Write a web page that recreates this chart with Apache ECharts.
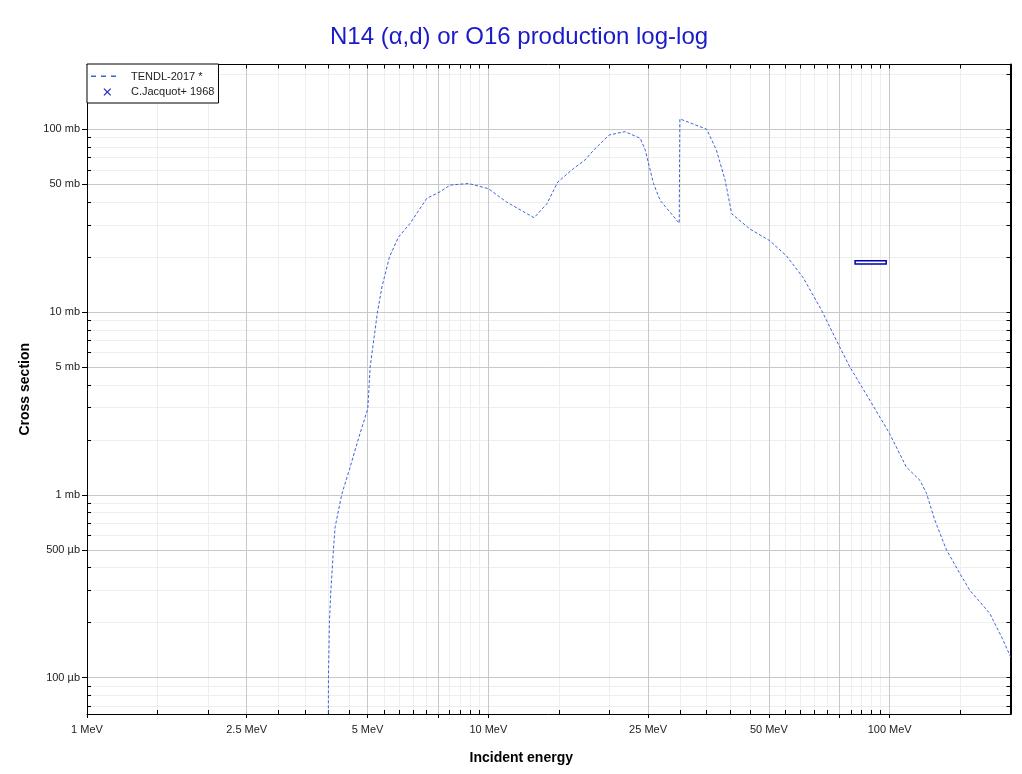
<!DOCTYPE html>
<html><head><meta charset="utf-8">
<script src="https://cdn.jsdelivr.net/npm/echarts@6/dist/echarts.min.js"></script>
<style>html,body{margin:0;padding:0;background:#fff}#chart{width:1022px;height:774px}</style>
</head><body><div id="chart"></div>
<script>
// ---- data ----
const tendlEnergy = [3.97, 3.996, 4.019, 4.052, 4.112, 4.153, 4.315, 4.525, 4.79, 5.008, 5.075, 5.29, 5.43, 5.67, 5.97, 6.38, 6.63, 7.02, 7.58, 8.03, 8.92, 10, 11.1, 13.0, 14.0, 14.9, 16.3, 17.4, 18.3, 20.0, 21.9, 23.9, 24.6, 25.8, 26.8, 29.9, 30.0, 35.0, 37.0, 38.9, 40.4, 44.8, 50.2, 55.3, 60.9, 67.7, 74.4, 79.6, 89.2, 100, 110, 119, 123.5, 129.5, 138.5, 149.5, 158.3, 177.5, 191.6, 200];
const tendlSigma = [0.001, 0.1, 0.205, 0.3, 0.505, 0.67, 1.01, 1.42, 2.17, 2.96, 5.0, 9.9, 13.7, 20.0, 25.7, 30.5, 34.6, 41.8, 45.5, 49.5, 50.5, 47.3, 40.0, 32.8, 39.2, 51.5, 61, 67.8, 76.9, 93, 97, 89.2, 76.9, 50.4, 40.8, 30.6, 113.9, 100, 76.9, 52.6, 34.5, 28.5, 24.6, 20.3, 15.4, 10.2, 6.7, 5.0, 3.3, 2.16, 1.42, 1.2, 1.02, 0.73, 0.5, 0.372, 0.301, 0.225, 0.161, 0.130];
const expEnergy = [90];
const expEnergyErr = [8];
const expSigma = [18.7];
const expSigmaErr = [0.4];

const xLabelValues = [1, 2.5, 5, 10, 25, 50, 100];
const xMajorTicks = [1, 2.5, 5, 7.5, 10, 25, 50, 75, 100];
const xMinorTicks = [1.5, 2, 3, 3.5, 4, 4.5, 5.5, 6, 6.5, 7, 8, 8.5, 9, 9.5, 15, 20, 30, 35, 40, 45, 55, 60, 65, 70, 80, 85, 90, 95, 150, 200];
const yLabelValues = [0.1, 0.5, 1, 5, 10, 50, 100];
const yMajorTicks = [0.1, 0.5, 1, 5, 10, 50, 100];
const yMinorTicks = [0.07, 0.08, 0.09, 0.2, 0.3, 0.4, 0.6, 0.7, 0.8, 0.9, 2, 3, 4, 6, 7, 8, 9, 20, 30, 40, 60, 70, 80, 90, 200];

const seriesNames = ['TENDL-2017 *', 'C.Jacquot+ 1968'];
const titleText = 'N14 (\u03b1,d) or O16 production log-log';

// ---- build ----
const xAll = xMajorTicks.concat(xMinorTicks);
const yAll = yMajorTicks.concat(yMinorTicks);
const X_MIN = 1, X_MAX = 200, Y_MIN = 0.0633, Y_MAX = 226;
const FONT = 'Liberation Sans, Arial, sans-serif';

function xIconPath(cx, cy, r, t) {
  const k = t / Math.SQRT2;
  const pts = [
    [cx - r, cy - r + k], [cx - r + k, cy - r], [cx, cy - k], [cx + r - k, cy - r],
    [cx + r, cy - r + k], [cx + k, cy], [cx + r, cy + r - k], [cx + r - k, cy + r],
    [cx, cy + k], [cx - r + k, cy + r], [cx - r, cy + r - k], [cx - k, cy]
  ];
  return 'path://M0,0 M25,13 M' + pts.map(p => p[0].toFixed(2) + ',' + p[1].toFixed(2)).join(' L') + ' Z';
}
function dashIconPath(cy, h) {
  const segs = [[0, 5], [10, 15], [20, 25]];
  return 'path://M0,0 M25,13 ' + segs.map(s =>
    'M' + s[0] + ',' + (cy - h / 2) + ' L' + s[1] + ',' + (cy - h / 2) + ' L' + s[1] + ',' + (cy + h / 2) + ' L' + s[0] + ',' + (cy + h / 2) + ' Z'
  ).join(' ');
}

function yFmt(v) {
  if (v >= 1) return (+v.toPrecision(6)) + ' mb';
  return Math.round(v * 1000) + ' \u00b5b';
}

const lineData = tendlEnergy.map((e, i) => [e, tendlSigma[i]]);
const expData = expEnergy.map((e, i) => [e, expEnergyErr[i], expSigma[i], expSigmaErr[i]]);

const chart = echarts.init(document.getElementById('chart'), null, { renderer: 'canvas' });
const baseX = { type: 'log', logBase: 10, min: X_MIN, max: X_MAX, gridIndex: 0 };
const baseY = { type: 'log', logBase: 10, min: Y_MIN, max: Y_MAX, gridIndex: 0 };

chart.setOption({
  animation: false,
  backgroundColor: '#fff',
  title: {
    text: titleText, left: 325, top: 20,
    textStyle: { color: '#1a1ac8', fontSize: 24, fontWeight: 'normal', fontFamily: FONT }
  },
  legend: {
    orient: 'vertical', left: 87, top: 64,
    padding: [6, 4, 5, 4], itemGap: 2, itemWidth: 25, itemHeight: 13,
    backgroundColor: '#fff', borderColor: '#000', borderWidth: 1, borderRadius: 0,
    textStyle: { fontSize: 11, color: '#222', fontFamily: FONT, padding: [0, 0, 0, 10] },
    data: [
      { name: seriesNames[0], icon: dashIconPath(6.3, 1.5) },
      { name: seriesNames[1], icon: xIconPath(16.3, 7.0, 3.8, 1.2) }
    ]
  },
  grid: { left: 87, right: 11.5, top: 64.5, bottom: 60, containLabel: false },
  xAxis: [
    Object.assign({}, baseX, {
      position: 'bottom', z: 1,
      name: 'Incident energy', nameLocation: 'middle', nameGap: 37,
      nameTextStyle: { fontSize: 14, fontWeight: 'bold', color: '#000', fontFamily: FONT, padding: [0, 55, 0, 0] },
      axisLine: { show: true, lineStyle: { color: '#000', width: 1 } },
      axisTick: { show: true, inside: false, length: 4, customValues: xMajorTicks, lineStyle: { color: '#000' } },
      axisLabel: { show: true, customValues: xLabelValues, margin: 10, fontSize: 11, color: '#222', fontFamily: FONT,
        formatter: v => (+(+v).toPrecision(6)) + ' MeV' },
      splitLine: { show: true, lineStyle: { color: '#c8c8c8', width: 1 } },
      minorTick: { show: false }
    }),
    Object.assign({}, baseX, {
      position: 'bottom', z: 0,
      axisLine: { show: false },
      axisTick: { show: true, inside: true, length: 4, customValues: xAll, lineStyle: { color: '#000' } },
      axisLabel: { show: false },
      splitLine: { show: true, lineStyle: { color: '#eeeeee', width: 1 } }
    }),
    Object.assign({}, baseX, {
      position: 'top', z: 1,
      axisLine: { show: true, onZero: false, lineStyle: { color: '#000', width: 1 } },
      axisTick: { show: true, inside: true, length: 4, customValues: xAll, lineStyle: { color: '#000' } },
      axisLabel: { show: false },
      splitLine: { show: false }
    })
  ],
  yAxis: [
    Object.assign({}, baseY, {
      position: 'left', z: 1,
      name: 'Cross section', nameLocation: 'middle', nameGap: 54,
      nameTextStyle: { fontSize: 14, fontWeight: 'bold', color: '#000', fontFamily: FONT },
      axisLine: { show: true, onZero: false, lineStyle: { color: '#000', width: 1 } },
      axisTick: { show: true, inside: false, length: 5, customValues: yMajorTicks, lineStyle: { color: '#000' } },
      axisLabel: { show: true, customValues: yLabelValues, margin: 7, fontSize: 11, color: '#222', fontFamily: FONT,
        formatter: v => yFmt(+v) },
      splitLine: { show: true, lineStyle: { color: '#c8c8c8', width: 1 } }
    }),
    Object.assign({}, baseY, {
      position: 'left', z: 0,
      axisLine: { show: false },
      axisTick: { show: true, inside: true, length: 4, customValues: yAll, lineStyle: { color: '#000' } },
      axisLabel: { show: false },
      splitLine: { show: true, lineStyle: { color: '#eeeeee', width: 1 } }
    }),
    Object.assign({}, baseY, {
      position: 'right', z: 1,
      axisLine: { show: true, onZero: false, lineStyle: { color: '#000', width: 2 } },
      axisTick: { show: true, inside: true, length: 4, customValues: yAll, lineStyle: { color: '#000' } },
      axisLabel: { show: false },
      splitLine: { show: false }
    })
  ],
  series: [
    {
      name: seriesNames[0], type: 'line', xAxisIndex: 0, yAxisIndex: 0,
      data: lineData, showSymbol: false, symbol: 'none', clip: true, z: 3,
      color: '#3b62e0',
      lineStyle: { color: '#3b62e0', width: 1, type: [3, 2] }
    },
    {
      name: seriesNames[1], type: 'custom', xAxisIndex: 0, yAxisIndex: 0,
      data: expData, encode: { x: 0, y: 2 }, z: 4,
      itemStyle: { color: '#2222cc' },
      renderItem: function (params, api) {
        const e = api.value(0), de = api.value(1), s = api.value(2), ds = api.value(3);
        const p1 = api.coord([e - de, s + ds]);
        const p2 = api.coord([e + de, s - ds]);
        return {
          type: 'rect',
          shape: { x: p1[0], y: p1[1], width: p2[0] - p1[0], height: p2[1] - p1[1] },
          style: { fill: '#fff', stroke: '#0000aa', lineWidth: 1.5 }
        };
      }
    }
  ]
});
</script>
</body></html>
